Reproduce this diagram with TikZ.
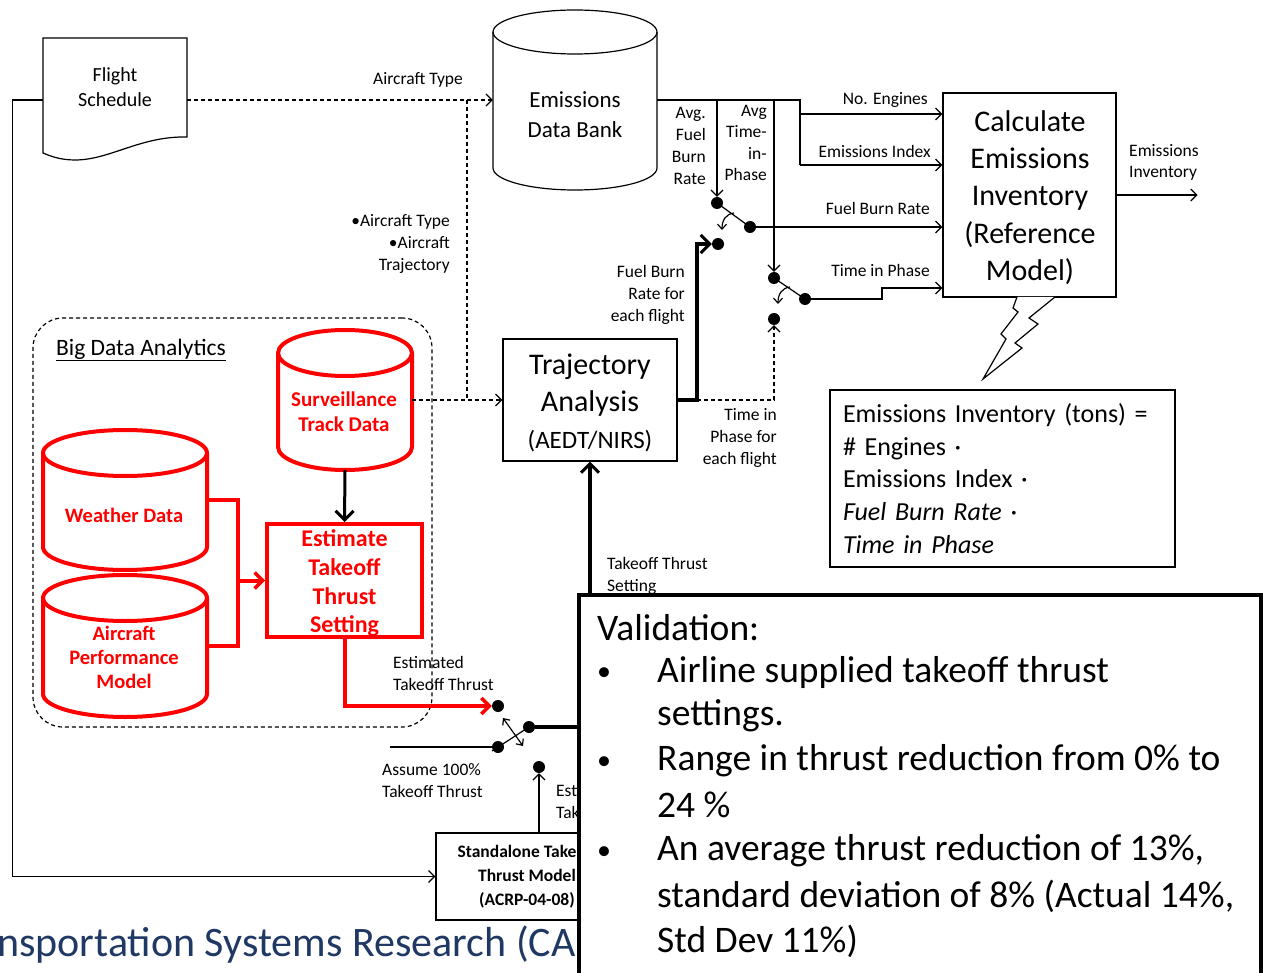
\documentclass[tikz,border=0pt]{standalone}
\usepackage{fontspec}
\setmainfont{Carlito}
\usetikzlibrary{arrows.meta}
\definecolor{alarm}{RGB}{255,0,0}
\definecolor{navy}{RGB}{31,56,100}

% cylinder outline: #1 style, #2 left, #3 right, #4 top, #5 bottom, #6 rim radius
\newcommand{\drumpath}[6]{%
  \pgfmathsetmacro\drx{(#3-#2)/2}%
  \draw[#1] (#2,#4+#6) -- (#2,#5-#6)
    arc[start angle=180,end angle=0,x radius=\drx,y radius=#6] -- (#3,#4+#6)
    arc[start angle=0,end angle=-180,x radius=\drx,y radius=#6] -- cycle;
  \draw[#1,fill=none] (#2,#4+#6) arc[start angle=180,end angle=0,x radius=\drx,y radius=#6];
}

\tikzset{
  lw/.style={line width=1.2pt},
  tip/.style={-{Straight Barb[length=6pt,width=12pt]}},
  smalltip/.style={-{Straight Barb[length=5pt,width=9pt]}},
  bigtip/.style={-{Straight Barb[length=9pt,width=18pt,line width=3pt]}},
  heavy/.style={line width=4pt, line join=miter},
  dsh/.style={dash pattern=on 4pt off 3pt},
  box/.style={draw, line width=1.2pt, fill=white, inner sep=0pt},
  shell/.style={inner sep=0pt},
  pin/.style={circle, fill=black, inner sep=0pt, minimum size=12pt},
  lbl/.style={font=\fontsize{17.5}{22}\selectfont, inner sep=0pt},
  redline/.style={draw=alarm, line width=4pt, line join=miter},
  redtxt/.style={text=alarm, inner sep=0pt, align=center},
  vt/.style={font=\fontsize{37.5}{45}\selectfont, inner sep=0pt, anchor=west},
  bul/.style={font=\fontsize{28}{30}\selectfont, inner sep=0pt, anchor=center},
}

\begin{document}
\begin{tikzpicture}[x=1pt,y=-1pt]
\useasboundingbox (0,0) rectangle (1266,973);

% ---------- Flight schedule (document shape) ----------
\draw[lw, fill=white] (43,38) -- (187,38) -- (187,137)
  .. controls (140,136) and (110,160) .. (75,160)
  .. controls (60,160) and (50,156) .. (43,153) -- cycle;
\node[shell, minimum width=144pt, minimum height=99pt, align=center,
      font=\fontsize{20}{25}\selectfont] (fs) at (115,87.5) {Flight\\Schedule};

% ---------- Emissions data bank ----------
\drumpath{lw,fill=white}{493}{657}{10}{190}{22}
\node[shell, minimum width=164pt, minimum height=180pt] (bank) at (575,100) {};
\node[shell, align=center, font=\fontsize{23}{30}\selectfont] (banktxt) at (575,115) {Emissions\\Data Bank};

% ---------- Calculation box ----------
\node[box, minimum width=173pt, minimum height=204pt] (calc) at (1029.5,195) {};
\node[shell, align=center, font=\fontsize{30}{37.2}\selectfont] (calctxt) at (1030,197.5)
  {Calculate\\Emissions\\Inventory\\(Reference\\Model)};

% ---------- Trajectory analysis ----------
\node[box, minimum width=174pt, minimum height=122pt] (traj) at (590,400) {};
\node[shell, align=center, font=\fontsize{30}{37}\selectfont] (trajtxt) at (590,403)
  {Trajectory\\Analysis\\{\fontsize{25}{34}\selectfont(AEDT/NIRS)}};

% ---------- Big data analytics group ----------
\node[draw, lw, dsh, rounded corners=30pt, minimum width=399pt, minimum height=409pt,
      inner sep=0pt] (bda) at (232.5,522.5) {};
\node[shell, font=\fontsize{23.5}{28}\selectfont] (bdatxt) at (141,350) {\underline{Big Data Analytics}};

\drumpath{redline,fill=white}{278}{412}{330}{470}{23}
\node[shell, minimum width=134pt, minimum height=140pt] (surv) at (345,400) {};
\node[redtxt, font=\bfseries\fontsize{21}{25}\selectfont] (survtxt) at (344,412) {Surveillance\\Track Data};

\drumpath{redline,fill=white}{43}{207}{430}{570}{23}
\node[shell, minimum width=164pt, minimum height=140pt] (wx) at (125,500) {};
\node[redtxt, font=\bfseries\fontsize{20.5}{24}\selectfont] (wxtxt) at (124,515) {Weather Data};

\drumpath{redline,fill=white}{43}{207}{575}{717}{23}
\node[shell, minimum width=164pt, minimum height=142pt] (apm) at (125,646) {};
\node[redtxt, font=\bfseries\fontsize{20.5}{24}\selectfont] (apmtxt) at (124,657) {Aircraft\\Performance\\Model};

\node[redline, draw=alarm, fill=white, minimum width=155pt, minimum height=113pt, inner sep=0pt] (est) at (344.5,580.5) {};
\node[redtxt, font=\bfseries\fontsize{24}{28.7}\selectfont] (esttxt) at (344.5,583.5)
  {Estimate\\Takeoff\\Thrust\\Setting};

% red inputs into the estimate
\coordinate (rj) at (238,580.5);
\draw[redline] (wx.east) -- ++(31,0) |- (apm.east);
\draw[redline, -{Straight Barb[length=8pt,width=16pt,line width=3.5pt]}] (rj) -- (est.west);
\draw[line width=3pt, bigtip] (surv.south) -- (est.north);

% ---------- Standalone model ----------
\node[box, minimum width=182pt, minimum height=87pt, align=center,
      font=\bfseries\fontsize{17.5}{24}\selectfont] (sa) at (527,876.5)
  {Standalone Takeoff\\Thrust Model\\(ACRP-04-08)};

% ---------- switch contacts ----------
\node[pin] (s1a) at (717,203) {};
\node[pin] (s1b) at (718,244) {};
\node[pin] (s1p) at (750,227) {};
\node[pin] (s2a) at (774,278) {};
\node[pin] (s2p) at (805,299) {};
\node[pin] (s2b) at (774,319) {};
\node[pin] (s3a) at (498,706) {};
\node[pin] (s3b) at (498,747) {};
\node[pin] (s3p) at (529,727) {};
\node[pin] (s3c) at (539,767) {};

% ---------- schedule and data bank links ----------
\coordinate (dj) at (467,100);
\draw[lw, dsh, tip] (fs.east |- bank.west) -- (bank.west);
\draw[lw, dsh, tip] (dj) |- (traj.west);
\draw[lw, dsh] (surv.east) -- (dj |- surv.east);
\draw[lw, tip] (fs.west |- bank.west) -- ++(-30,0) |- (sa.west);

\coordinate (bus) at (800,100);
\coordinate (eng) at (800,114);
\coordinate (eidx) at (800,165);
\coordinate (tapf) at (717,100);
\coordinate (tapt) at (774,100);
\draw[lw] (bank.east) -- (bus) -- (eidx);
\draw[lw, tip] (eng) -- (eng -| calc.west);
\draw[lw, tip] (eidx) -- (eidx -| calc.west);
\draw[lw, tip] (tapf) -- (s1a);
\draw[lw, tip] (tapt) -- (s2a);

% switch 1: fuel burn rate
\draw[lw] (s1p.center) -- (s1a.center);
\draw[lw, smalltip] (734,213) .. controls (726,214) and (722,220) .. (722,230);
\draw[lw, tip] (s1p) -- (s1p -| calc.west);

% switch 2: time in phase
\coordinate (tk) at (882,288);
\draw[lw] (s2p.center) -- (s2a.center);
\draw[lw, smalltip] (790,287) .. controls (782,288) and (778,294) .. (778,304);
\draw[lw, tip] (s2p) -| (tk) -- (tk -| calc.west);

% trajectory outputs
\coordinate (tj) at (697,400);
\draw[heavy, bigtip] (traj.east) -- (tj) |- (s1b);
\draw[lw, dsh, tip] (tj) -| (s2b);

% output of the calculation
\draw[lw, tip] (calc.east) -- ++(81,0);

% lightning bolt
\draw[lw, fill=white, line join=miter] (1017,297) -- (1013,308) -- (1018,312) -- (1001,334) -- (1006,339)
  -- (983,379) -- (1022,348) -- (1015,343) -- (1038,324) -- (1029,318) -- (1055,297);

% ---------- emissions formula ----------
\node[box, minimum height=177pt, text width=319pt, inner xsep=13pt, align=left,
      font=\fontsize{26}{32.75}\selectfont] (eq) at (1002.5,478.5)
  {Emissions Inventory (tons) =\\\# Engines ·\\Emissions Index ·\\\textit{Fuel Burn Rate ·}\\\textit{Time in Phase}};

% ---------- switch 3: takeoff thrust ----------
\coordinate (tv) at (590,727);
\draw[redline, -{Straight Barb[length=8pt,width=16pt,line width=3.5pt]}] (est.south) |- (s3a.west);
\draw[lw] (s3p.center) -- (492,751);
\draw[lw, {Straight Barb[length=5pt,width=9pt]}-{Straight Barb[length=5pt,width=9pt]}] (503,718) -- (523,746);
\draw[lw] (s3b) -- ++(-108,0);
\draw[lw, tip] (sa.north -| s3c) -- (s3c);
\draw[heavy, bigtip] (s3p) -- (tv) -- (traj.south);

% ---------- labels ----------
\node[lbl] (lat) at (418,80) {Aircraft Type};
\node[lbl, anchor=east, align=right] (latt) at (450,244) {•Aircraft Type\\•Aircraft\\Trajectory};
\node[lbl, anchor=east, align=right] (lafb) at (706,146) {Avg.\\Fuel\\Burn\\Rate};
\node[lbl, anchor=east, align=right, font=\fontsize{17.5}{21.3}\selectfont] (latp) at (767,143) {Avg\\Time-\\in-\\Phase};
\node[lbl, anchor=east] (lne) at (928,100) {No. Engines};
\node[lbl, anchor=east] (lei) at (931,151) {Emissions Index};
\node[lbl, anchor=east] (lfr) at (930,208) {Fuel Burn Rate};
\node[lbl, anchor=east] (ltp) at (930,270) {Time in Phase};
\node[lbl, anchor=west, align=left, font=\fontsize{17.5}{21}\selectfont] (lout) at (1129,162) {Emissions\\Inventory};
\node[lbl, anchor=east, align=right] (lfbf) at (685,295) {Fuel Burn\\Rate for\\each flight};
\node[lbl, anchor=east, align=right] (ltpf) at (777,438) {Time in\\Phase for\\each flight};
\node[lbl, anchor=west, align=left] (lett) at (393,673) {Estimated\\Takeoff Thrust};
\node[lbl, anchor=west, align=left] (lass) at (382,781) {Assume 100\%\\Takeoff Thrust};
\node[lbl, anchor=west, align=left] (ltts) at (607,576) {Takeoff Thrust\\Setting};
\node[lbl, anchor=west, align=left] (lsat) at (556,801) {Estimated\\Takeoff Thrust};

% footer line of the slide, running off the left edge
\node[inner sep=0pt, anchor=west, text=navy, font=\fontsize{42}{48}\selectfont] (foot) at (-3,945)
  {nsportation Systems Research (CA};

% ---------- validation panel ----------
\node[draw, line width=4pt, fill=white, minimum width=682pt, minimum height=400pt,
      inner sep=0pt, anchor=north west] (val) at (577,593) {};
\node[vt] (v0) at (597,628) {Validation:};
\node[bul] (b1) at (604,674) {•};
\node[vt] (v1) at (657,672) {Airline supplied takeoff thrust};
\node[vt] (v2) at (657,716) {settings.};
\node[bul] (b2) at (604,763) {•};
\node[vt] (v3) at (657,761) {Range in thrust reduction from 0\% to};
\node[vt] (v4) at (657,805) {24 \%};
\node[bul] (b3) at (604,853) {•};
\node[vt] (v5) at (657,851) {An average thrust reduction of 13\%,};
\node[vt] (v6) at (657,896) {standard deviation of 8\% (Actual 14\%,};
\node[vt] (v7) at (657,941) {Std Dev 11\%)};
\end{tikzpicture}
\end{document}
